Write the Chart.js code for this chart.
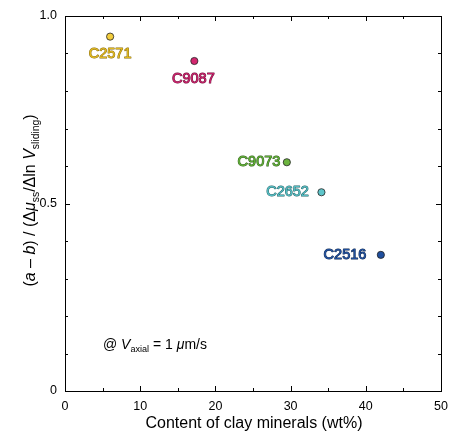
<!DOCTYPE html>
<html>
<head>
<meta charset="utf-8">
<script src="https://cdn.jsdelivr.net/npm/chart.js"></script>
<style>
  body { margin: 0; background: #fff; }
  #wrap { width: 450px; height: 435px; }
</style>
</head>
<body>
<div id="wrap"><canvas id="chart" width="450" height="435"></canvas></div>
<script>
// === Données ===
const echantillons = ["C2571", "C9087", "C9073", "C2652", "C2516"];
const argile = [6.0, 17.2, 29.5, 34.1, 42.0];          // teneur en argile (wt%)
const rapport = [0.945, 0.88, 0.61, 0.53, 0.363];      // (a-b)/(Δμss/Δln V)
const xTicks = [0, 10, 20, 30, 40, 50];
const yTicks = [0, 0.5, 1.0];
const yTickLabels = ["0", "0.5", "1.0"];

// === Styles ===
const couleurs = ["#f3cd3d", "#d3266f", "#6cb43f", "#5ec5ca", "#1f4f9e"];
const couleursTexte = ["#e0b81e", "#c8206a", "#5fae35", "#52bcc2", "#1f4f9e"];
const contoursTexte = ["#8a6d10", "#6e1038", "#2f5c1a", "#2a6669", "#10284f"];
// placement des étiquettes : [dx, dy, alignement]
const placements = [[0, 17, "center"], [-1, 17.5, "center"], [-6.5, 0, "right"], [-12.5, 0, "right"], [-14.5, 0, "right"]];
const POLICE = '"Liberation Sans", Arial, Helvetica, sans-serif';

function police(m, taille) {
  const t = m.sub ? taille * 0.65 : taille;
  return (m.italic ? "italic " : "") + t + "px " + POLICE;
}

// Texte avec italiques et indices
function texteRiche(ctx, morceaux, x, y, taille, align) {
  let largeur = 0;
  morceaux.forEach(m => { ctx.font = police(m, taille); largeur += ctx.measureText(m.t).width; });
  let cx = align === "left" ? x : x - largeur / 2;
  ctx.textAlign = "left";
  ctx.textBaseline = "middle";
  morceaux.forEach(m => {
    ctx.font = police(m, taille);
    ctx.fillText(m.t, cx, y + (m.sub ? taille * 0.3 : 0));
    cx += ctx.measureText(m.t).width;
  });
}

// === Cadre, graduations internes, étiquettes et titres ===
const cadre = {
  id: "cadre",
  afterDraw(chart) {
    const { ctx, chartArea: a, scales: { x, y } } = chart;
    ctx.save();
    ctx.strokeStyle = "#000";
    ctx.lineWidth = 1;
    ctx.strokeRect(a.left + 0.5, a.top + 0.5, a.right - a.left, a.bottom - a.top);

    ctx.beginPath();
    for (let v = 5; v < 50; v += 5) {
      const px = Math.round(x.getPixelForValue(v)) + 0.5;
      const l = v % 10 === 0 ? 5 : 3;
      ctx.moveTo(px, a.bottom); ctx.lineTo(px, a.bottom - l);
      ctx.moveTo(px, a.top); ctx.lineTo(px, a.top + l);
    }
    for (let i = 1; i < 10; i++) {
      const v = i / 10;
      const py = Math.round(y.getPixelForValue(v)) + 0.5;
      const l = i === 5 ? 5 : 3;
      ctx.moveTo(a.left, py); ctx.lineTo(a.left + l, py);
      ctx.moveTo(a.right, py); ctx.lineTo(a.right - l, py);
    }
    ctx.stroke();

    // étiquettes des échantillons
    ctx.font = "14.5px " + POLICE;
    ctx.textBaseline = "middle";
    ctx.lineJoin = "round";
    echantillons.forEach((nom, i) => {
      const px = x.getPixelForValue(argile[i]);
      const py = y.getPixelForValue(rapport[i]);
      const [dx, dy, al] = placements[i];
      ctx.textAlign = al;
      ctx.lineWidth = 1;
      ctx.strokeStyle = contoursTexte[i];
      ctx.strokeText(nom, px + dx, py + dy);
      ctx.fillStyle = couleursTexte[i];
      ctx.fillText(nom, px + dx, py + dy);
    });

    // annotation
    ctx.fillStyle = "#000";
    texteRiche(ctx, [
      { t: "@ " }, { t: "V", italic: true }, { t: "axial", sub: true },
      { t: " = 1 " }, { t: "μ", italic: true }, { t: "m/s" }
    ], 103, 345, 14, "left");

    // titre axe x
    ctx.font = "16px " + POLICE;
    ctx.textAlign = "center";
    ctx.textBaseline = "middle";
    ctx.fillText("Content of clay minerals (wt%)", (a.left + a.right) / 2 + 1, 424);

    // titre axe y
    ctx.translate(31, (a.top + a.bottom) / 2 - 3);
    ctx.rotate(-Math.PI / 2);
    texteRiche(ctx, [
      { t: "(" }, { t: "a", italic: true }, { t: " – " }, { t: "b", italic: true },
      { t: ") / (Δ" }, { t: "μ", italic: true }, { t: "ss", sub: true },
      { t: "/Δln " }, { t: "V", italic: true }, { t: "sliding", sub: true }, { t: ")" }
    ], 0, 0, 16, "center");
    ctx.restore();
  }
};

new Chart(document.getElementById("chart"), {
  type: "scatter",
  data: {
    datasets: [{
      data: argile.map((v, i) => ({ x: v, y: rapport[i] })),
      pointBackgroundColor: couleurs,
      pointBorderColor: "#222",
      pointBorderWidth: 0.8,
      pointRadius: 3.6
    }]
  },
  options: {
    responsive: false,
    animation: false,
    layout: { padding: { top: 16, right: 9, left: 0, bottom: 0 } },
    plugins: { legend: { display: false }, tooltip: { enabled: false } },
    scales: {
      x: {
        type: "linear", min: 0, max: 50,
        afterBuildTicks: s => { s.ticks = xTicks.map(v => ({ value: v })); },
        afterFit: s => { s.height = 44; s.paddingLeft = 0; s.paddingRight = 0; },
        grid: { display: false },
        border: { display: false },
        ticks: { color: "#000", padding: 0, font: { size: 12.5, family: POLICE }, autoSkip: false, maxRotation: 0 }
      },
      y: {
        type: "linear", min: 0, max: 1,
        afterBuildTicks: s => { s.ticks = yTicks.map(v => ({ value: v })); },
        afterFit: s => { s.width = 65; s.paddingTop = 0; s.paddingBottom = 0; },
        grid: { display: false },
        border: { display: false },
        ticks: {
          color: "#000", padding: 0, font: { size: 12.5, family: POLICE }, autoSkip: false,
          callback: v => yTickLabels[yTicks.indexOf(v)]
        }
      }
    }
  },
  plugins: [cadre]
});
</script>
</body>
</html>
